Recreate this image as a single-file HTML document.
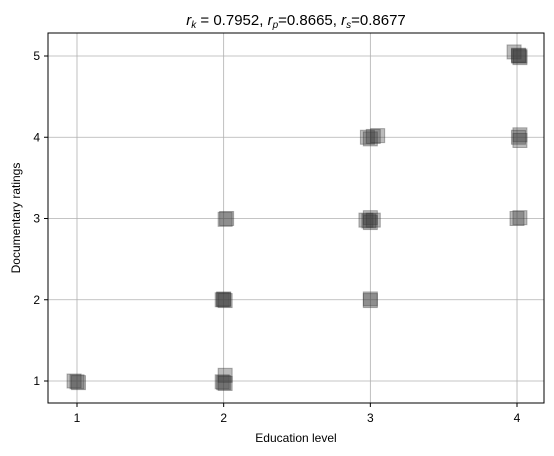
<!DOCTYPE html>
<html><head><meta charset="utf-8"><style>
body{margin:0;background:#fff;}
svg{display:block;font-family:"Liberation Sans","DejaVu Sans",sans-serif;}
</style></head><body>
<svg id="chart" width="554" height="456">
<rect x="48" y="33" width="496" height="370" fill="#fff"/>
<g id="grid"></g>
<g id="pts"></g>
<rect x="48" y="33" width="496" height="370" fill="none" stroke="#000" stroke-width="1"/>
<g id="ticks"></g>
<text x="296" y="25" text-anchor="middle" font-size="15"><tspan font-style="italic">r</tspan><tspan font-size="10" dy="3" font-style="italic">k</tspan><tspan dy="-3"> = 0.7952, </tspan><tspan font-style="italic">r</tspan><tspan font-size="10" dy="3" font-style="italic">p</tspan><tspan dy="-3">=0.8665, </tspan><tspan font-style="italic">r</tspan><tspan font-size="10" dy="3" font-style="italic">s</tspan><tspan dy="-3">=0.8677</tspan></text>
<text x="296" y="442" text-anchor="middle" font-size="12">Education level</text>
<text x="20" y="218" text-anchor="middle" font-size="12" transform="rotate(-90 20 218)">Documentary ratings</text>
</svg>
<script>
const xVals=[0.98,1.01,1.0, 1.99,2.0,2.01,2.0, 1.99,2.01,2.01,2.0, 2.02,2.01, 2.98,3.0,3.02,3.05, 2.97,3.0,3.0,3.02,2.99, 3.0,3.0, 3.98,4.01,4.02,4.01,4.02, 4.02,4.01,4.02, 4.0,4.02];
const yVals=[1.0,0.98,0.99, 2.0,2.01,1.99,2.0, 0.99,1.07,0.97,0.98, 3.0,2.99, 4.0,3.98,4.01,4.02, 2.98,3.01,2.95,2.98,2.97, 2.01,1.99, 5.05,5.0,4.98,5.01,5.0, 4.03,4.0,3.96, 3.0,3.01];
const xTicks=[1,2,3,4];
const yTicks=[1,2,3,4,5];
const X=v=>77+(v-1)*146.67;
const Y=v=>381-(v-1)*81.25;
const ns="http://www.w3.org/2000/svg";
const grid=document.getElementById('grid'),ticks=document.getElementById('ticks'),pts=document.getElementById('pts');
function mk(tag,attrs,parent){const e=document.createElementNS(ns,tag);for(const k in attrs)e.setAttribute(k,attrs[k]);parent.appendChild(e);return e;}
xTicks.forEach(t=>{
 const g=mk('line',{x1:X(t),x2:X(t),y1:33,y2:403,stroke:'#b0b0b0','stroke-width':0.8},grid);
 
 
 const tk=mk('line',{x1:X(t),x2:X(t),y1:403,y2:407,stroke:'#000'},ticks);
 
 
 const tx=mk('text',{x:X(t),y:422,'text-anchor':'middle','font-size':12},ticks);
 tx.textContent=t;
 
 
});
yTicks.forEach(t=>{
 const g=mk('line',{x1:48,x2:544,y1:Y(t),y2:Y(t),stroke:'#b0b0b0','stroke-width':0.8},grid);
 
 
 const tk=mk('line',{x1:44,x2:48,y1:Y(t),y2:Y(t),stroke:'#000'},ticks);
 
 
 const tx=mk('text',{x:40,y:Y(t)+4,'text-anchor':'end','font-size':12},ticks);
 tx.textContent=t;
 
 
});
xVals.forEach((xv,i)=>{
 const r=mk('rect',{x:X(xv)-7,y:Y(yVals[i])-7,width:14,height:14,fill:'rgba(60,60,60,0.35)',stroke:'rgba(40,40,40,0.35)','stroke-width':1},pts);
 
 
});
</script>
</body></html>
